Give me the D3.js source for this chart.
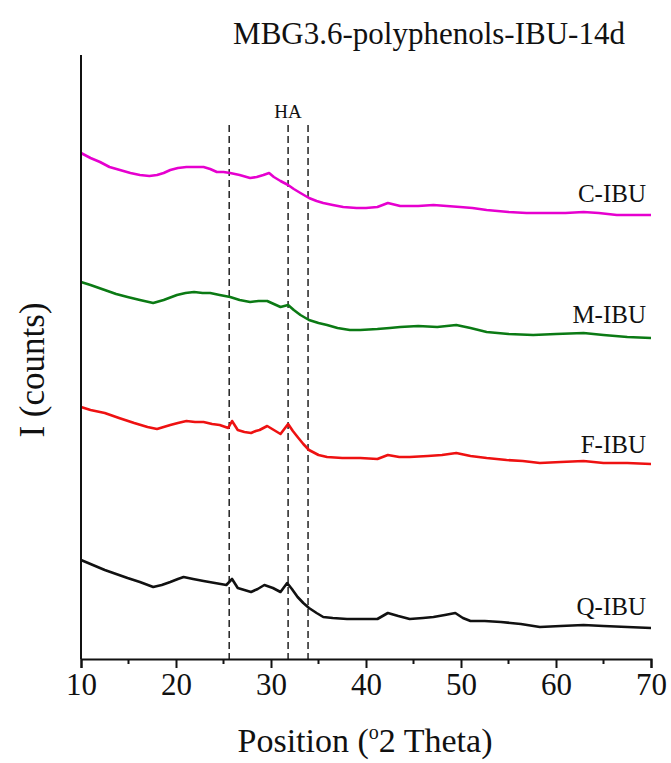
<!DOCTYPE html>
<html>
<head>
<meta charset="utf-8">
<script src="https://cdn.jsdelivr.net/npm/d3@7"></script>
<style>
  body { margin: 0; background: #fff; }
  svg { display: block; }
  text { font-family: "Liberation Serif", "Times New Roman", serif; fill: #111; }
</style>
</head>
<body>
<svg id="chart" width="671" height="763"></svg>
<script>
// XRD patterns after 14 days (arbitrary counts, stacked)
const seriesNames = ["C-IBU", "M-IBU", "F-IBU", "Q-IBU"];
const seriesColors = ["#e600cf", "#0b7a14", "#ee1111", "#111111"];

const cTheta  = [10, 11, 12, 13, 14.1, 15.2, 16.2, 17.2, 18, 18.7, 19.4, 20.2, 21.1, 22, 22.9, 23.6, 24.3, 25, 25.7, 26.7, 27.8, 28.5, 29.2, 29.8, 30.3, 31, 31.8, 32.4, 33.1, 34, 34.8, 35.5, 36.5, 37.6, 39, 40, 41.2, 42.3, 43.6, 45.5, 47.1, 48.5, 49.9, 51.2, 52.7, 55, 56.9, 59, 61, 62.9, 64.5, 66.4, 68, 70];
const cCounts = [506, 501, 497, 492, 489, 486, 484, 483, 484, 486, 489, 491, 492, 492, 492, 490, 487, 487, 486, 484, 481, 482, 484, 486, 482, 478, 474, 470, 466, 461, 458, 456, 454, 452, 451, 451, 452, 456, 453, 453, 454, 453, 452, 451, 449, 447, 446, 446, 446, 447, 446, 444, 444, 444];

const mTheta  = [10, 11, 12.5, 13.7, 14.9, 16.2, 17.6, 18.7, 20.1, 21, 21.9, 22.8, 23.6, 24.6, 25.7, 26.7, 27.8, 28.7, 29.6, 30.3, 31, 31.8, 32.4, 33.1, 34, 35, 35.9, 37, 38.3, 39.4, 41.2, 42.5, 43.6, 45.5, 47.5, 49.5, 51, 52.7, 55, 57.6, 60, 62.9, 65, 67.5, 70];
const mCounts = [377, 374, 369, 365, 362, 359, 356, 359, 364, 366, 367, 366, 366, 364, 362, 359, 357, 358, 358, 355, 352, 354, 349, 344, 339, 336, 334, 331, 329, 329, 330, 331, 332, 333, 332, 334, 331, 327, 325, 324, 325, 326, 324, 322, 321];

const fTheta  = [10, 11, 12.5, 14, 15.6, 17, 18, 19.4, 20.2, 21.1, 22, 22.9, 23.8, 24.6, 25.5, 25.9, 26.5, 27.2, 27.9, 28.4, 28.8, 29.6, 30.3, 31, 31.8, 32.3, 32.8, 33.4, 34, 35, 35.9, 37.5, 39.4, 41.2, 42.3, 43.5, 44.6, 46.5, 48, 49.5, 51, 52.7, 54.8, 56.5, 58.3, 60.5, 62.9, 65, 67.5, 70];
const fCounts = [252, 249, 246, 241, 236, 232, 230, 234, 236, 238, 237, 237, 235, 234, 231, 238, 229, 227, 226, 228, 229, 233, 229, 225, 235, 228, 222, 215, 209, 204, 202, 201, 201, 200, 204, 202, 202, 203, 204, 206, 203, 201, 199, 198, 196, 197, 198, 196, 196, 195];

const qTheta  = [10, 11, 12.5, 13.7, 14.9, 16.2, 17.6, 18.5, 19.4, 20.2, 20.8, 21.8, 22.9, 24.1, 25.3, 25.9, 26.5, 27.2, 27.9, 28.6, 29.3, 30.2, 31, 31.7, 32.2, 32.8, 33.4, 34, 34.8, 35.5, 36.5, 38, 39.4, 41.2, 42.3, 43.4, 44.6, 46, 47.1, 48.3, 49.4, 50.2, 51, 52.5, 54.2, 56.3, 58.3, 60.5, 62.9, 65, 67.5, 70];
const qCounts = [99, 95, 89, 85, 81, 77, 72, 74, 77, 80, 82, 80, 78, 76, 74, 80, 71, 69, 67, 70, 74, 71, 67, 76, 70, 62, 56, 51, 46, 42, 41, 40, 40, 40, 46, 43, 40, 41, 42, 44, 46, 41, 38, 38, 37, 35, 32, 33, 34, 33, 32, 31];

const seriesTheta  = [cTheta, mTheta, fTheta, qTheta];
const seriesCounts = [cCounts, mCounts, fCounts, qCounts];

// Hydroxyapatite reference reflections
const haPositions = [25.6, 31.8, 33.9];

const xTicks = [10, 20, 30, 40, 50, 60, 70];
const xMinorTicks = [15, 25, 35, 45, 55, 65];

const svg = d3.select("#chart");
const m = { left: 81, right: 651, top: 55, bottom: 659 };

const x = d3.scaleLinear().domain([10, 70]).range([m.left, m.right]);
const y = d3.scaleLinear().domain([0, 604]).range([m.bottom, m.top]);

// dashed HA reference lines
svg.append("g").selectAll("line").data(haPositions).join("line")
  .attr("x1", d => x(d)).attr("x2", d => x(d))
  .attr("y1", y(534)).attr("y2", y(0))
  .attr("stroke", "#222").attr("stroke-width", 1.5)
  .attr("stroke-dasharray", "7,4");

svg.append("text")
  .attr("x", x(31.8)).attr("y", 118)
  .attr("text-anchor", "middle").attr("font-size", 19)
  .text("HA");

// patterns
const line = d3.line().x(d => x(d[0])).y(d => y(d[1]));
seriesNames.forEach((name, i) => {
  const pts = d3.zip(seriesTheta[i], seriesCounts[i]);
  svg.append("path")
    .datum(pts)
    .attr("d", line)
    .attr("fill", "none")
    .attr("stroke", seriesColors[i])
    .attr("stroke-width", 2.6)
    .attr("stroke-linejoin", "round");
});

// series labels above the right end of each pattern
const labelLevels = [457, 336, 206, 44];
seriesNames.forEach((name, i) => {
  svg.append("text")
    .attr("x", 646).attr("y", y(labelLevels[i]))
    .attr("text-anchor", "end").attr("font-size", 25)
    .text(name);
});

// x axis
const xAxis = d3.axisBottom(x).tickValues(xTicks).tickSize(9).tickPadding(5).tickFormat(d3.format("d"));
const gx = svg.append("g").attr("transform", `translate(0,${m.bottom})`).call(xAxis);
gx.select(".domain").attr("stroke", "#111").attr("stroke-width", 2);
gx.selectAll(".tick line").attr("stroke", "#111").attr("stroke-width", 2);
gx.selectAll(".tick text").attr("font-size", 31).attr("font-family", "Liberation Serif").attr("fill", "#111");
gx.selectAll(".minor").data(xMinorTicks).join("line")
  .attr("class", "minor")
  .attr("x1", d => x(d)).attr("x2", d => x(d))
  .attr("y1", 0).attr("y2", 5)
  .attr("stroke", "#111").attr("stroke-width", 2);

// y axis (no ticks)
svg.append("line")
  .attr("x1", m.left).attr("x2", m.left)
  .attr("y1", m.top).attr("y2", m.bottom)
  .attr("stroke", "#111").attr("stroke-width", 2);

// titles
svg.append("text")
  .attr("x", 429).attr("y", 44)
  .attr("text-anchor", "middle").attr("font-size", 31)
  .text("MBG3.6-polyphenols-IBU-14d");

const xt = svg.append("text")
  .attr("x", 365).attr("y", 752)
  .attr("text-anchor", "middle").attr("font-size", 34);
xt.append("tspan").text("Position (");
xt.append("tspan").attr("font-size", 20).attr("dy", -13).text("o");
xt.append("tspan").attr("dy", 13).text("2 Theta)");

svg.append("text")
  .attr("transform", "translate(44,370) rotate(-90)")
  .attr("text-anchor", "middle").attr("font-size", 35)
  .text("I (counts)");
</script>
</body>
</html>
